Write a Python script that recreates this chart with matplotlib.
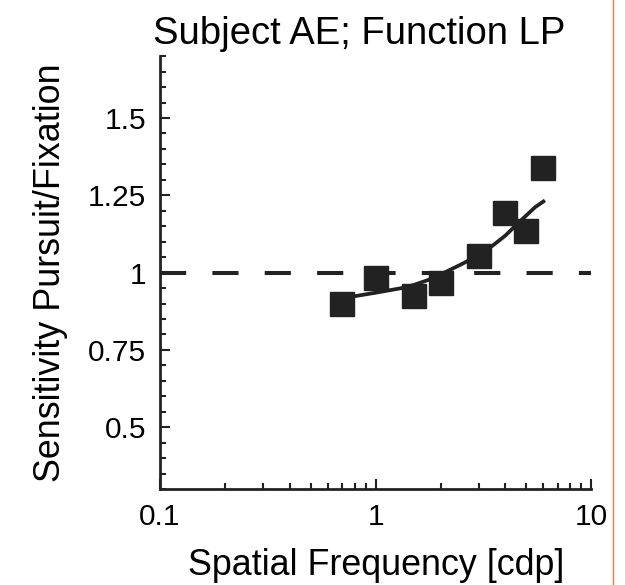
import matplotlib
matplotlib.use('Agg')

import matplotlib.pyplot as plt
from matplotlib.lines import Line2D
from matplotlib.ticker import FixedLocator, FixedFormatter, LogLocator, NullFormatter

plt.rcParams['font.family'] = ['Liberation Sans', 'DejaVu Sans']

# measured points
freq = [0.7, 1.0, 1.5, 2.0, 3.0, 4.0, 5.0, 6.0]
ratio = [0.897, 0.984, 0.925, 0.966, 1.055, 1.193, 1.135, 1.339]

# fitted curve
fit_freq = [0.7, 1.0, 1.3, 1.5, 1.75, 2.0, 2.5, 3.0, 3.5, 4.0, 4.5, 5.0, 5.5, 6.0]
fit_ratio = [0.917, 0.935, 0.949, 0.960, 0.976, 0.994, 1.027, 1.056, 1.088,
             1.12, 1.155, 1.185, 1.212, 1.23]

ytick_vals = [0.5, 0.75, 1.0, 1.25, 1.5]
ytick_labels = ['0.5', '0.75', '1', '1.25', '1.5']
xtick_vals = [0.1, 1, 10]
xtick_labels = ['0.1', '1', '10']

ink = '#222222'

fig = plt.figure(figsize=(6.25, 5.85), dpi=100)
ax = fig.add_axes([0.256, 0.164, 0.69, 0.740])

ax.axhline(1.0, color=ink, lw=2.9, dashes=(6.5, 6.5), zorder=1)
ax.plot(fit_freq, fit_ratio, color=ink, lw=2.7, zorder=2)
ax.plot(freq, ratio, 's', color=ink, ms=17, mec=ink, zorder=3)

ax.set_xscale('log')
ax.set_xlim(0.1, 10)
ax.set_ylim(0.3, 1.7)

ax.xaxis.set_major_locator(FixedLocator(xtick_vals))
ax.xaxis.set_major_formatter(FixedFormatter(xtick_labels))
ax.xaxis.set_minor_locator(LogLocator(base=10, subs=range(2, 10)))
ax.xaxis.set_minor_formatter(NullFormatter())

ax.yaxis.set_major_locator(FixedLocator(ytick_vals))
ax.yaxis.set_major_formatter(FixedFormatter(ytick_labels))
ax.yaxis.set_minor_locator(FixedLocator([0.3 + 0.05 * i for i in range(29)]))

for s in ['top', 'right']:
    ax.spines[s].set_visible(False)
for s in ['left', 'bottom']:
    ax.spines[s].set_linewidth(2.0)
    ax.spines[s].set_color(ink)

ax.tick_params(which='major', direction='in', length=7.5, width=1.5, color=ink,
               labelsize=21.5, pad=10)
ax.tick_params(which='minor', direction='in', length=4.2, width=1.5, color=ink)

ax.set_title('Subject AE; Function LP', fontsize=27.5, pad=9, x=0.463)
ax.set_xlabel('Spatial Frequency [cdp]', fontsize=25.8, labelpad=12)
ax.set_ylabel('Sensitivity Pursuit/Fixation', fontsize=25.8, labelpad=14)

fig.add_artist(Line2D([613 / 625, 613 / 625], [0, 1], color='#e8803a', lw=1.0,
                      transform=fig.transFigure))

plt.savefig('out.png', dpi=100)
